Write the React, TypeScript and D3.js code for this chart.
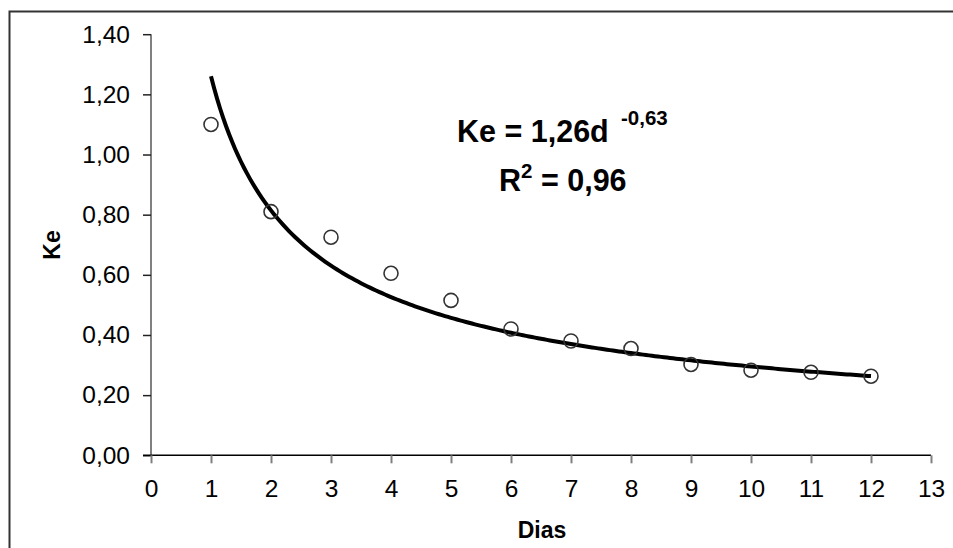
import React, { useEffect, useRef } from "react";
import * as d3 from "d3";

// observed Ke values per day
const dias = [1, 2, 3, 4, 5, 6, 7, 8, 9, 10, 11, 12];
const keValues = [1.1, 0.81, 0.725, 0.605, 0.515, 0.42, 0.38, 0.355, 0.302, 0.283, 0.276, 0.263];

// power trendline given on the chart: Ke = 1,26 d^-0,63
const trendA = 1.26;
const trendB = -0.63;

const yTicks = [0, 0.2, 0.4, 0.6, 0.8, 1.0, 1.2, 1.4];
const xTicks = [0, 1, 2, 3, 4, 5, 6, 7, 8, 9, 10, 11, 12, 13];

const fmt = (v: number) => v.toFixed(2).replace(".", ",");

export default function App() {
  const ref = useRef<SVGSVGElement>(null);

  useEffect(() => {
    const width = 953;
    const height = 548;
    const font = "Arial, 'Liberation Sans', sans-serif";

    const svg = d3.select(ref.current);
    svg.selectAll("*").remove();

    const x = d3.scaleLinear().domain([0, 13]).range([151, 931]);
    const y = d3.scaleLinear().domain([0, 1.4]).range([455.3, 34.2]);

    svg.append("rect").attr("width", width).attr("height", height).attr("fill", "#fff");

    // outer chart border (runs off the right and bottom edges)
    svg.append("rect")
      .attr("x", 9.5)
      .attr("y", 11.5)
      .attr("width", 960)
      .attr("height", 560)
      .attr("fill", "none")
      .attr("stroke", "#333")
      .attr("stroke-width", 2);

    // y axis
    const yAxis = svg.append("g").attr("transform", `translate(${x(0)},0)`)
      .call(d3.axisLeft(y).tickValues(yTicks).tickSize(8).tickPadding(13).tickFormat((d) => fmt(+d)));
    yAxis.select(".domain").attr("stroke", "#808080").attr("stroke-width", 2).attr("d", `M0,${y(1.4)}V${y(0)}`);
    yAxis.selectAll(".tick line").attr("stroke", "#222").attr("stroke-width", 1.5);
    yAxis.selectAll(".tick text")
      .attr("font-family", font)
      .attr("font-size", 24.5)
      .attr("fill", "#000");

    // x axis
    const xAxis = svg.append("g").attr("transform", `translate(0,${y(0)})`)
      .call(d3.axisBottom(x).tickValues(xTicks).tickSize(8).tickPadding(16).tickFormat((d) => String(d)));
    xAxis.select(".domain").attr("stroke", "#000").attr("stroke-width", 1.5).attr("d", `M${x(0) - 8},0H${x(13)}`);
    xAxis.selectAll(".tick line").attr("stroke", "#808080").attr("stroke-width", 2);
    xAxis.selectAll(".tick text")
      .attr("font-family", font)
      .attr("font-size", 24.5)
      .attr("fill", "#000");

    // trendline
    const trend = d3.range(1, 12.001, 0.05).map((d) => [d, trendA * Math.pow(d, trendB)]);
    svg.append("path")
      .datum(trend)
      .attr("fill", "none")
      .attr("stroke", "#000")
      .attr("stroke-width", 4)
      .attr("d", d3.line<number[]>().x((d) => x(d[0])).y((d) => y(d[1])));

    // observed points
    svg.append("g")
      .selectAll("circle")
      .data(dias)
      .join("circle")
      .attr("cx", (d) => x(d))
      .attr("cy", (_d, i) => y(keValues[i]))
      .attr("r", 7)
      .attr("fill", "none")
      .attr("stroke", "#333")
      .attr("stroke-width", 1.6);

    // equation
    const eq = svg.append("text")
      .attr("x", 457)
      .attr("y", 141.7)
      .attr("font-family", font)
      .attr("font-weight", "bold")
      .attr("font-size", 30.5)
      .attr("fill", "#000");
    eq.append("tspan").text("Ke = 1,26d");
    eq.append("tspan").attr("x", 621).attr("y", 124.5).attr("font-size", 20.5).text("-0,63");

    const r2 = svg.append("text")
      .attr("x", 499)
      .attr("y", 190.7)
      .attr("font-family", font)
      .attr("font-weight", "bold")
      .attr("font-size", 30.5)
      .attr("fill", "#000");
    r2.append("tspan").text("R");
    r2.append("tspan").attr("y", 178).attr("font-size", 20.5).text("2");
    r2.append("tspan").attr("y", 190.7).text(" = 0,96");

    // axis titles
    svg.append("text")
      .attr("transform", "translate(60,245) rotate(-90)")
      .attr("text-anchor", "middle")
      .attr("font-family", font)
      .attr("font-weight", "bold")
      .attr("font-size", 23)
      .text("Ke");

    svg.append("text")
      .attr("x", 542)
      .attr("y", 538)
      .attr("text-anchor", "middle")
      .attr("font-family", font)
      .attr("font-weight", "bold")
      .attr("font-size", 23)
      .text("Dias");
  }, []);

  return (
    <svg
      ref={ref}
      width={953}
      height={548}
      style={{ position: "absolute", left: 0, top: 0, display: "block" }}
    />
  );
}
